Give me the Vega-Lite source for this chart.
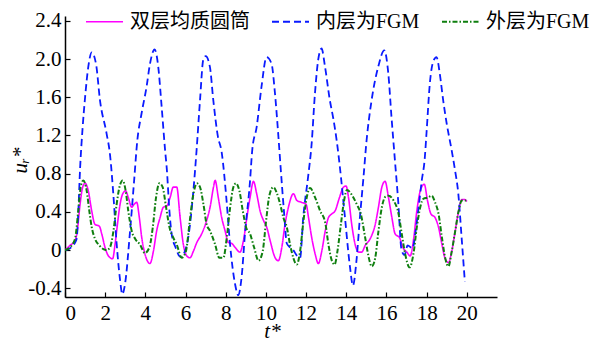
{
  "$schema": "https://vega.github.io/schema/vega-lite/v6.json",
  "width": 432,
  "height": 281,
  "autosize": {"type": "none"},
  "padding": {"left": 65, "top": 16, "right": 93, "bottom": 44},
  "background": "white",
  "config": {
    "view": {"stroke": null},
    "font": "Liberation Serif, Times New Roman, serif",
    "style": {"guide-label": {"font": "Liberation Serif, Times New Roman, serif"}, "guide-title": {"font": "Liberation Serif, Times New Roman, serif"}},
    "axis": {
      "grid": false,
      "domainColor": "#000000",
      "domainWidth": 1.5,
      "tickColor": "#000000",
      "tickWidth": 1.2,
      "tickSize": -5,
      "labelFont": "Liberation Serif, Times New Roman, serif",
      "labelFontSize": 21,
      "labelColor": "#000000",
      "titleFont": "Liberation Serif, Times New Roman, serif",
      "titleFontSize": 21,
      "titleFontWeight": "normal",
      "titleFontStyle": "italic",
      "titleColor": "#000000"
    },
    "legend": {
      "orient": "none",
      "legendX": 20,
      "legendY": -14,
      "direction": "horizontal",
      "symbolType": "stroke",
      "symbolSize": 1369,
      "symbolStrokeWidth": 1.6,
      "labelFont": "Liberation Serif, Noto Sans CJK SC, serif",
      "labelFontSize": 20,
      "labelColor": "#000000",
      "labelOffset": 6,
      "columnPadding": 18,
      "padding": 0,
      "title": null
    }
  },
  "data": {
    "values": [
      {"s": "双层均质圆筒", "t": 0, "u": 0},
      {"s": "双层均质圆筒", "t": 0.25, "u": 0.05},
      {"s": "双层均质圆筒", "t": 0.5, "u": 0.1},
      {"s": "双层均质圆筒", "t": 0.61, "u": 0.2},
      {"s": "双层均质圆筒", "t": 0.75, "u": 0.48},
      {"s": "双层均质圆筒", "t": 0.88, "u": 0.66},
      {"s": "双层均质圆筒", "t": 1.0, "u": 0.7},
      {"s": "双层均质圆筒", "t": 1.16, "u": 0.62},
      {"s": "双层均质圆筒", "t": 1.33, "u": 0.41},
      {"s": "双层均质圆筒", "t": 1.49, "u": 0.27},
      {"s": "双层均质圆筒", "t": 1.71, "u": 0.25},
      {"s": "双层均质圆筒", "t": 1.83, "u": 0.17},
      {"s": "双层均质圆筒", "t": 1.99, "u": 0.03},
      {"s": "双层均质圆筒", "t": 2.16, "u": -0.06},
      {"s": "双层均质圆筒", "t": 2.37, "u": -0.09},
      {"s": "双层均质圆筒", "t": 2.49, "u": 0.06},
      {"s": "双层均质圆筒", "t": 2.61, "u": 0.27},
      {"s": "双层均质圆筒", "t": 2.74, "u": 0.48},
      {"s": "双层均质圆筒", "t": 2.9, "u": 0.6},
      {"s": "双层均质圆筒", "t": 3.02, "u": 0.62},
      {"s": "双层均质圆筒", "t": 3.15, "u": 0.55},
      {"s": "双层均质圆筒", "t": 3.32, "u": 0.45},
      {"s": "双层均质圆筒", "t": 3.44, "u": 0.48},
      {"s": "双层均质圆筒", "t": 3.57, "u": 0.5},
      {"s": "双层均质圆筒", "t": 3.7, "u": 0.34},
      {"s": "双层均质圆筒", "t": 3.82, "u": 0.13},
      {"s": "双层均质圆筒", "t": 3.98, "u": -0.04},
      {"s": "双层均质圆筒", "t": 4.23, "u": -0.14},
      {"s": "双层均质圆筒", "t": 4.4, "u": -0.01},
      {"s": "双层均质圆筒", "t": 4.56, "u": 0.2},
      {"s": "双层均质圆筒", "t": 4.73, "u": 0.34},
      {"s": "双层均质圆筒", "t": 4.9, "u": 0.45},
      {"s": "双层均质圆筒", "t": 5.06, "u": 0.46},
      {"s": "双层均质圆筒", "t": 5.23, "u": 0.55},
      {"s": "双层均质圆筒", "t": 5.39, "u": 0.66},
      {"s": "双层均质圆筒", "t": 5.56, "u": 0.66},
      {"s": "双层均质圆筒", "t": 5.73, "u": 0.34},
      {"s": "双层均质圆筒", "t": 5.89, "u": 0.06},
      {"s": "双层均质圆筒", "t": 6.06, "u": -0.06},
      {"s": "双层均质圆筒", "t": 6.22, "u": -0.08},
      {"s": "双层均质圆筒", "t": 6.39, "u": -0.01},
      {"s": "双层均质圆筒", "t": 6.56, "u": 0.08},
      {"s": "双层均质圆筒", "t": 6.8, "u": 0.17},
      {"s": "双层均质圆筒", "t": 7.05, "u": 0.31},
      {"s": "双层均质圆筒", "t": 7.22, "u": 0.45},
      {"s": "双层均质圆筒", "t": 7.39, "u": 0.66},
      {"s": "双层均质圆筒", "t": 7.47, "u": 0.73},
      {"s": "双层均质圆筒", "t": 7.63, "u": 0.55},
      {"s": "双层均质圆筒", "t": 7.8, "u": 0.34},
      {"s": "双层均质圆筒", "t": 7.97, "u": 0.2},
      {"s": "双层均质圆筒", "t": 8.13, "u": 0.08},
      {"s": "双层均质圆筒", "t": 8.3, "u": 0.07},
      {"s": "双层均质圆筒", "t": 8.46, "u": 0.03},
      {"s": "双层均质圆筒", "t": 8.71, "u": -0.02},
      {"s": "双层均质圆筒", "t": 8.88, "u": 0.1},
      {"s": "双层均质圆筒", "t": 9.05, "u": 0.34},
      {"s": "双层均质圆筒", "t": 9.21, "u": 0.55},
      {"s": "双层均质圆筒", "t": 9.38, "u": 0.72},
      {"s": "双层均质圆筒", "t": 9.54, "u": 0.59},
      {"s": "双层均质圆筒", "t": 9.71, "u": 0.41},
      {"s": "双层均质圆筒", "t": 9.88, "u": 0.31},
      {"s": "双层均质圆筒", "t": 10.04, "u": 0.24},
      {"s": "双层均质圆筒", "t": 10.21, "u": 0.1},
      {"s": "双层均质圆筒", "t": 10.46, "u": -0.08},
      {"s": "双层均质圆筒", "t": 10.62, "u": -0.11},
      {"s": "双层均质圆筒", "t": 10.79, "u": 0.03},
      {"s": "双层均质圆筒", "t": 10.95, "u": 0.27},
      {"s": "双层均质圆筒", "t": 11.12, "u": 0.45},
      {"s": "双层均质圆筒", "t": 11.37, "u": 0.59},
      {"s": "双层均质圆筒", "t": 11.54, "u": 0.52},
      {"s": "双层均质圆筒", "t": 11.78, "u": 0.5},
      {"s": "双层均质圆筒", "t": 12.0, "u": 0.48},
      {"s": "双层均质圆筒", "t": 12.12, "u": 0.34},
      {"s": "双层均质圆筒", "t": 12.28, "u": 0.13},
      {"s": "双层均质圆筒", "t": 12.45, "u": -0.04},
      {"s": "双层均质圆筒", "t": 12.61, "u": -0.14},
      {"s": "双层均质圆筒", "t": 12.78, "u": -0.01},
      {"s": "双层均质圆筒", "t": 12.95, "u": 0.2},
      {"s": "双层均质圆筒", "t": 13.11, "u": 0.34},
      {"s": "双层均质圆筒", "t": 13.28, "u": 0.38},
      {"s": "双层均质圆筒", "t": 13.44, "u": 0.41},
      {"s": "双层均质圆筒", "t": 13.66, "u": 0.55},
      {"s": "双层均质圆筒", "t": 13.86, "u": 0.66},
      {"s": "双层均质圆筒", "t": 13.99, "u": 0.67},
      {"s": "双层均质圆筒", "t": 14.11, "u": 0.55},
      {"s": "双层均质圆筒", "t": 14.27, "u": 0.27},
      {"s": "双层均质圆筒", "t": 14.44, "u": 0.06},
      {"s": "双层均质圆筒", "t": 14.61, "u": -0.02},
      {"s": "双层均质圆筒", "t": 14.77, "u": -0.02},
      {"s": "双层均质圆筒", "t": 14.94, "u": 0.05},
      {"s": "双层均质圆筒", "t": 15.19, "u": 0.12},
      {"s": "双层均质圆筒", "t": 15.44, "u": 0.27},
      {"s": "双层均质圆筒", "t": 15.6, "u": 0.45},
      {"s": "双层均质圆筒", "t": 15.77, "u": 0.66},
      {"s": "双层均质圆筒", "t": 15.93, "u": 0.72},
      {"s": "双层均质圆筒", "t": 16.1, "u": 0.55},
      {"s": "双层均质圆筒", "t": 16.27, "u": 0.34},
      {"s": "双层均质圆筒", "t": 16.43, "u": 0.17},
      {"s": "双层均质圆筒", "t": 16.65, "u": 0.13},
      {"s": "双层均质圆筒", "t": 16.81, "u": 0.03},
      {"s": "双层均质圆筒", "t": 17.01, "u": -0.02},
      {"s": "双层均质圆筒", "t": 17.18, "u": -0.06},
      {"s": "双层均质圆筒", "t": 17.34, "u": 0.1},
      {"s": "双层均质圆筒", "t": 17.51, "u": 0.41},
      {"s": "双层均质圆筒", "t": 17.68, "u": 0.62},
      {"s": "双层均质圆筒", "t": 17.88, "u": 0.69},
      {"s": "双层均质圆筒", "t": 18.04, "u": 0.52},
      {"s": "双层均质圆筒", "t": 18.21, "u": 0.38},
      {"s": "双层均质圆筒", "t": 18.42, "u": 0.34},
      {"s": "双层均质圆筒", "t": 18.59, "u": 0.24},
      {"s": "双层均质圆筒", "t": 18.76, "u": 0.06},
      {"s": "双层均质圆筒", "t": 18.92, "u": -0.09},
      {"s": "双层均质圆筒", "t": 19.09, "u": -0.13},
      {"s": "双层均质圆筒", "t": 19.25, "u": -0.01},
      {"s": "双层均质圆筒", "t": 19.42, "u": 0.2},
      {"s": "双层均质圆筒", "t": 19.59, "u": 0.41},
      {"s": "双层均质圆筒", "t": 19.75, "u": 0.53},
      {"s": "双层均质圆筒", "t": 19.88, "u": 0.53},
      {"s": "双层均质圆筒", "t": 20.0, "u": 0.51},

      {"s": "内层为FGM", "t": 0, "u": 0},
      {"s": "内层为FGM", "t": 0.25, "u": 0.02},
      {"s": "内层为FGM", "t": 0.5, "u": 0.08},
      {"s": "内层为FGM", "t": 0.58, "u": 0.12},
      {"s": "内层为FGM", "t": 0.66, "u": 0.39},
      {"s": "内层为FGM", "t": 0.75, "u": 0.85},
      {"s": "内层为FGM", "t": 0.88, "u": 1.29},
      {"s": "内层为FGM", "t": 1.0, "u": 1.6},
      {"s": "内层为FGM", "t": 1.16, "u": 1.92},
      {"s": "内层为FGM", "t": 1.33, "u": 2.07},
      {"s": "内层为FGM", "t": 1.55, "u": 1.94},
      {"s": "内层为FGM", "t": 1.74, "u": 1.57},
      {"s": "内层为FGM", "t": 2.07, "u": 1.22},
      {"s": "内层为FGM", "t": 2.24, "u": 1.0},
      {"s": "内层为FGM", "t": 2.4, "u": 0.6},
      {"s": "内层为FGM", "t": 2.57, "u": 0.07},
      {"s": "内层为FGM", "t": 2.74, "u": -0.31},
      {"s": "内层为FGM", "t": 2.85, "u": -0.46},
      {"s": "内层为FGM", "t": 2.99, "u": -0.35},
      {"s": "内层为FGM", "t": 3.23, "u": 0.18},
      {"s": "内层为FGM", "t": 3.43, "u": 0.7},
      {"s": "内层为FGM", "t": 3.6, "u": 1.15},
      {"s": "内层为FGM", "t": 3.81, "u": 1.43},
      {"s": "内层为FGM", "t": 4.06, "u": 1.71},
      {"s": "内层为FGM", "t": 4.23, "u": 1.95},
      {"s": "内层为FGM", "t": 4.46, "u": 2.1},
      {"s": "内层为FGM", "t": 4.64, "u": 1.92},
      {"s": "内层为FGM", "t": 4.81, "u": 1.5},
      {"s": "内层为FGM", "t": 4.98, "u": 1.05},
      {"s": "内层为FGM", "t": 5.07, "u": 0.84},
      {"s": "内层为FGM", "t": 5.2, "u": 0.4},
      {"s": "内层为FGM", "t": 5.3, "u": 0.18},
      {"s": "内层为FGM", "t": 5.5, "u": 0.03},
      {"s": "内层为FGM", "t": 5.75, "u": -0.07},
      {"s": "内层为FGM", "t": 5.95, "u": -0.02},
      {"s": "内层为FGM", "t": 6.14, "u": 0.14},
      {"s": "内层为FGM", "t": 6.38, "u": 0.6},
      {"s": "内层为FGM", "t": 6.55, "u": 1.05},
      {"s": "内层为FGM", "t": 6.72, "u": 1.57},
      {"s": "内层为FGM", "t": 6.88, "u": 1.99},
      {"s": "内层为FGM", "t": 7.0, "u": 2.03},
      {"s": "内层为FGM", "t": 7.21, "u": 1.92},
      {"s": "内层为FGM", "t": 7.38, "u": 1.57},
      {"s": "内层为FGM", "t": 7.6, "u": 1.2},
      {"s": "内层为FGM", "t": 7.8, "u": 1.02},
      {"s": "内层为FGM", "t": 8.04, "u": 0.52},
      {"s": "内层为FGM", "t": 8.21, "u": 0.07},
      {"s": "内层为FGM", "t": 8.46, "u": -0.35},
      {"s": "内层为FGM", "t": 8.62, "u": -0.47},
      {"s": "内层为FGM", "t": 8.79, "u": -0.28},
      {"s": "内层为FGM", "t": 8.96, "u": 0.18},
      {"s": "内层为FGM", "t": 9.2, "u": 0.7},
      {"s": "内层为FGM", "t": 9.32, "u": 1.05},
      {"s": "内层为FGM", "t": 9.54, "u": 1.29},
      {"s": "内层为FGM", "t": 9.78, "u": 1.71},
      {"s": "内层为FGM", "t": 10.03, "u": 2.02},
      {"s": "内层为FGM", "t": 10.28, "u": 1.95},
      {"s": "内层为FGM", "t": 10.45, "u": 1.64},
      {"s": "内层为FGM", "t": 10.61, "u": 1.22},
      {"s": "内层为FGM", "t": 10.73, "u": 0.87},
      {"s": "内层为FGM", "t": 10.9, "u": 0.4},
      {"s": "内层为FGM", "t": 11.04, "u": 0.07},
      {"s": "内层为FGM", "t": 11.2, "u": 0.03},
      {"s": "内层为FGM", "t": 11.36, "u": 0.0},
      {"s": "内层为FGM", "t": 11.55, "u": -0.06},
      {"s": "内层为FGM", "t": 11.7, "u": -0.08},
      {"s": "内层为FGM", "t": 11.86, "u": 0.35},
      {"s": "内层为FGM", "t": 12.1, "u": 0.77},
      {"s": "内层为FGM", "t": 12.27, "u": 1.1},
      {"s": "内层为FGM", "t": 12.44, "u": 1.64},
      {"s": "内层为FGM", "t": 12.6, "u": 1.99},
      {"s": "内层为FGM", "t": 12.77, "u": 2.11},
      {"s": "内层为FGM", "t": 12.94, "u": 1.92},
      {"s": "内层为FGM", "t": 13.18, "u": 1.57},
      {"s": "内层为FGM", "t": 13.35, "u": 1.38},
      {"s": "内层为FGM", "t": 13.52, "u": 1.15},
      {"s": "内层为FGM", "t": 13.68, "u": 0.87},
      {"s": "内层为FGM", "t": 13.93, "u": 0.35},
      {"s": "内层为FGM", "t": 14.18, "u": -0.17},
      {"s": "内层为FGM", "t": 14.33, "u": -0.37},
      {"s": "内层为FGM", "t": 14.51, "u": -0.1},
      {"s": "内层为FGM", "t": 14.68, "u": 0.35},
      {"s": "内层为FGM", "t": 14.85, "u": 0.75},
      {"s": "内层为FGM", "t": 15.01, "u": 1.15},
      {"s": "内层为FGM", "t": 15.26, "u": 1.57},
      {"s": "内层为FGM", "t": 15.59, "u": 1.92},
      {"s": "内层为FGM", "t": 15.89, "u": 2.09},
      {"s": "内层为FGM", "t": 16.09, "u": 1.85},
      {"s": "内层为FGM", "t": 16.25, "u": 1.39},
      {"s": "内层为FGM", "t": 16.42, "u": 0.94},
      {"s": "内层为FGM", "t": 16.58, "u": 0.52},
      {"s": "内层为FGM", "t": 16.75, "u": 0.0},
      {"s": "内层为FGM", "t": 16.9, "u": -0.05},
      {"s": "内层为FGM", "t": 17.05, "u": 0.05},
      {"s": "内层为FGM", "t": 17.3, "u": 0.02},
      {"s": "内层为FGM", "t": 17.45, "u": 0.2},
      {"s": "内层为FGM", "t": 17.6, "u": 0.45},
      {"s": "内层为FGM", "t": 17.75, "u": 0.72},
      {"s": "内层为FGM", "t": 17.9, "u": 0.95},
      {"s": "内层为FGM", "t": 17.99, "u": 1.22},
      {"s": "内层为FGM", "t": 18.16, "u": 1.75},
      {"s": "内层为FGM", "t": 18.32, "u": 1.97},
      {"s": "内层为FGM", "t": 18.49, "u": 2.02},
      {"s": "内层为FGM", "t": 18.65, "u": 1.85},
      {"s": "内层为FGM", "t": 18.82, "u": 1.57},
      {"s": "内层为FGM", "t": 19.0, "u": 1.32},
      {"s": "内层为FGM", "t": 19.24, "u": 1.05},
      {"s": "内层为FGM", "t": 19.4, "u": 0.85},
      {"s": "内层为FGM", "t": 19.57, "u": 0.6},
      {"s": "内层为FGM", "t": 19.75, "u": 0.1},
      {"s": "内层为FGM", "t": 19.9, "u": -0.33},

      {"s": "外层为FGM", "t": 0, "u": 0},
      {"s": "外层为FGM", "t": 0.25, "u": 0.03},
      {"s": "外层为FGM", "t": 0.5, "u": 0.12},
      {"s": "外层为FGM", "t": 0.66, "u": 0.41},
      {"s": "外层为FGM", "t": 0.78, "u": 0.66},
      {"s": "外层为FGM", "t": 0.91, "u": 0.73},
      {"s": "外层为FGM", "t": 1.08, "u": 0.62},
      {"s": "外层为FGM", "t": 1.21, "u": 0.41},
      {"s": "外层为FGM", "t": 1.33, "u": 0.24},
      {"s": "外层为FGM", "t": 1.49, "u": 0.12},
      {"s": "外层为FGM", "t": 1.71, "u": 0.05},
      {"s": "外层为FGM", "t": 1.91, "u": 0.01},
      {"s": "外层为FGM", "t": 2.07, "u": 0.0},
      {"s": "外层为FGM", "t": 2.24, "u": 0.03},
      {"s": "外层为FGM", "t": 2.41, "u": 0.2},
      {"s": "外层为FGM", "t": 2.57, "u": 0.48},
      {"s": "外层为FGM", "t": 2.71, "u": 0.66},
      {"s": "外层为FGM", "t": 2.87, "u": 0.73},
      {"s": "外层为FGM", "t": 3.02, "u": 0.62},
      {"s": "外层为FGM", "t": 3.15, "u": 0.41},
      {"s": "外层为FGM", "t": 3.32, "u": 0.2},
      {"s": "外层为FGM", "t": 3.49, "u": 0.12},
      {"s": "外层为FGM", "t": 3.73, "u": 0.06},
      {"s": "外层为FGM", "t": 3.98, "u": -0.03},
      {"s": "外层为FGM", "t": 4.2, "u": 0.03},
      {"s": "外层为FGM", "t": 4.37, "u": 0.24},
      {"s": "外层为FGM", "t": 4.53, "u": 0.55},
      {"s": "外层为FGM", "t": 4.7, "u": 0.7},
      {"s": "外层为FGM", "t": 4.86, "u": 0.66},
      {"s": "外层为FGM", "t": 5.03, "u": 0.45},
      {"s": "外层为FGM", "t": 5.2, "u": 0.24},
      {"s": "外层为FGM", "t": 5.39, "u": 0.13},
      {"s": "外层为FGM", "t": 5.56, "u": 0.06},
      {"s": "外层为FGM", "t": 5.81, "u": -0.08},
      {"s": "外层为FGM", "t": 6.02, "u": -0.01},
      {"s": "外层为FGM", "t": 6.19, "u": 0.27},
      {"s": "外层为FGM", "t": 6.36, "u": 0.55},
      {"s": "外层为FGM", "t": 6.56, "u": 0.7},
      {"s": "外层为FGM", "t": 6.72, "u": 0.66},
      {"s": "外层为FGM", "t": 6.89, "u": 0.48},
      {"s": "外层为FGM", "t": 7.05, "u": 0.27},
      {"s": "外层为FGM", "t": 7.22, "u": 0.2},
      {"s": "外层为FGM", "t": 7.47, "u": 0.06},
      {"s": "外层为FGM", "t": 7.68, "u": -0.08},
      {"s": "外层为FGM", "t": 7.88, "u": -0.08},
      {"s": "外层为FGM", "t": 8.05, "u": 0.13},
      {"s": "外层为FGM", "t": 8.22, "u": 0.45},
      {"s": "外层为FGM", "t": 8.38, "u": 0.66},
      {"s": "外层为FGM", "t": 8.51, "u": 0.7},
      {"s": "外层为FGM", "t": 8.68, "u": 0.62},
      {"s": "外层为FGM", "t": 8.85, "u": 0.41},
      {"s": "外层为FGM", "t": 9.01, "u": 0.24},
      {"s": "外层为FGM", "t": 9.21, "u": 0.17},
      {"s": "外层为FGM", "t": 9.41, "u": 0.03},
      {"s": "外层为FGM", "t": 9.63, "u": -0.11},
      {"s": "外层为FGM", "t": 9.84, "u": -0.01},
      {"s": "外层为FGM", "t": 10.01, "u": 0.31},
      {"s": "外层为FGM", "t": 10.17, "u": 0.57},
      {"s": "外层为FGM", "t": 10.37, "u": 0.66},
      {"s": "外层为FGM", "t": 10.54, "u": 0.6},
      {"s": "外层为FGM", "t": 10.71, "u": 0.48},
      {"s": "外层为FGM", "t": 10.87, "u": 0.34},
      {"s": "外层为FGM", "t": 11.04, "u": 0.24},
      {"s": "外层为FGM", "t": 11.2, "u": 0.06},
      {"s": "外层为FGM", "t": 11.54, "u": -0.15},
      {"s": "外层为FGM", "t": 11.7, "u": -0.01},
      {"s": "外层为FGM", "t": 11.87, "u": 0.31},
      {"s": "外层为FGM", "t": 12.03, "u": 0.55},
      {"s": "外层为FGM", "t": 12.2, "u": 0.65},
      {"s": "外层为FGM", "t": 12.45, "u": 0.55},
      {"s": "外层为FGM", "t": 12.7, "u": 0.41},
      {"s": "外层为FGM", "t": 12.95, "u": 0.29},
      {"s": "外层为FGM", "t": 13.11, "u": 0.06},
      {"s": "外层为FGM", "t": 13.28, "u": -0.11},
      {"s": "外层为FGM", "t": 13.42, "u": -0.15},
      {"s": "外层为FGM", "t": 13.56, "u": -0.01},
      {"s": "外层为FGM", "t": 13.73, "u": 0.27},
      {"s": "外层为FGM", "t": 13.89, "u": 0.52},
      {"s": "外层为FGM", "t": 14.03, "u": 0.63},
      {"s": "外层为FGM", "t": 14.3, "u": 0.57},
      {"s": "外层为FGM", "t": 14.52, "u": 0.48},
      {"s": "外层为FGM", "t": 14.72, "u": 0.38},
      {"s": "外层为FGM", "t": 14.94, "u": 0.13},
      {"s": "外层为FGM", "t": 15.1, "u": -0.06},
      {"s": "外层为FGM", "t": 15.27, "u": -0.17},
      {"s": "外层为FGM", "t": 15.44, "u": -0.08},
      {"s": "外层为FGM", "t": 15.6, "u": 0.2},
      {"s": "外层为FGM", "t": 15.77, "u": 0.45},
      {"s": "外层为FGM", "t": 15.95, "u": 0.56},
      {"s": "外层为FGM", "t": 16.1, "u": 0.57},
      {"s": "外层为FGM", "t": 16.35, "u": 0.52},
      {"s": "外层为FGM", "t": 16.6, "u": 0.38},
      {"s": "外层为FGM", "t": 16.76, "u": 0.17},
      {"s": "外层为FGM", "t": 16.93, "u": -0.04},
      {"s": "外层为FGM", "t": 17.15, "u": -0.18},
      {"s": "外层为FGM", "t": 17.34, "u": -0.04},
      {"s": "外层为FGM", "t": 17.51, "u": 0.24},
      {"s": "外层为FGM", "t": 17.68, "u": 0.45},
      {"s": "外层为FGM", "t": 17.85, "u": 0.54},
      {"s": "外层为FGM", "t": 18.05, "u": 0.55},
      {"s": "外层为FGM", "t": 18.25, "u": 0.57},
      {"s": "外层为FGM", "t": 18.42, "u": 0.5},
      {"s": "外层为FGM", "t": 18.59, "u": 0.38},
      {"s": "外层为FGM", "t": 18.76, "u": 0.13},
      {"s": "外层为FGM", "t": 18.92, "u": -0.08},
      {"s": "外层为FGM", "t": 19.08, "u": -0.17},
      {"s": "外层为FGM", "t": 19.25, "u": -0.01},
      {"s": "外层为FGM", "t": 19.42, "u": 0.2},
      {"s": "外层为FGM", "t": 19.59, "u": 0.41},
      {"s": "外层为FGM", "t": 19.75, "u": 0.52},
      {"s": "外层为FGM", "t": 19.97, "u": 0.52}
    ]
  },
  "mark": {"type": "line", "interpolate": "monotone", "clip": true},
  "encoding": {
    "x": {
      "field": "t",
      "type": "quantitative",
      "scale": {"domain": [0, 21.5], "nice": false, "zero": false},
      "axis": {
        "values": [0, 2, 4, 6, 8, 10, 12, 14, 16, 18, 20],
        "format": "d",
        "labelFont": "Liberation Serif, Times New Roman, serif",
        "labelPadding": 10,
        "title": "t*",
        "titleFont": "Liberation Serif, Times New Roman, serif",
        "titleX": 207,
        "titleY": 40,
        "titleBaseline": "alphabetic",
        "titleAlign": "center"
      }
    },
    "y": {
      "field": "u",
      "type": "quantitative",
      "scale": {"domain": [-0.49, 2.45], "nice": false, "zero": false},
      "axis": {
        "values": [-0.4, 0, 0.4, 0.8, 1.2, 1.6, 2.0, 2.4],
        "labelExpr": "datum.value == 0 ? '0' : (datum.value < 0 ? '-' + format(-datum.value, '.1f') : format(datum.value, '.1f'))",
        "labelFont": "Liberation Serif, Times New Roman, serif",
        "labelPadding": 9,
        "title": "uᵣ*",
        "titleFont": "Liberation Serif, Times New Roman, serif",
        "titleX": -45,
        "titleY": 144,
        "titleAngle": -90,
        "titleBaseline": "middle",
        "titleAlign": "center"
      }
    },
    "color": {
      "field": "s",
      "type": "nominal",
      "scale": {"domain": ["双层均质圆筒", "内层为FGM", "外层为FGM"], "range": ["#ff00ff", "#0a1aff", "#0f7f0f"]},
      "legend": {"title": null}
    },
    "strokeDash": {
      "field": "s",
      "type": "nominal",
      "scale": {"domain": ["双层均质圆筒", "内层为FGM", "外层为FGM"], "range": [[1, 0], [7, 4], [5, 2, 1.5, 2]]},
      "legend": {"title": null}
    },
    "strokeWidth": {
      "field": "s",
      "type": "nominal",
      "scale": {"domain": ["双层均质圆筒", "内层为FGM", "外层为FGM"], "range": [1.6, 2, 1.5]},
      "legend": null
    }
  }
}
